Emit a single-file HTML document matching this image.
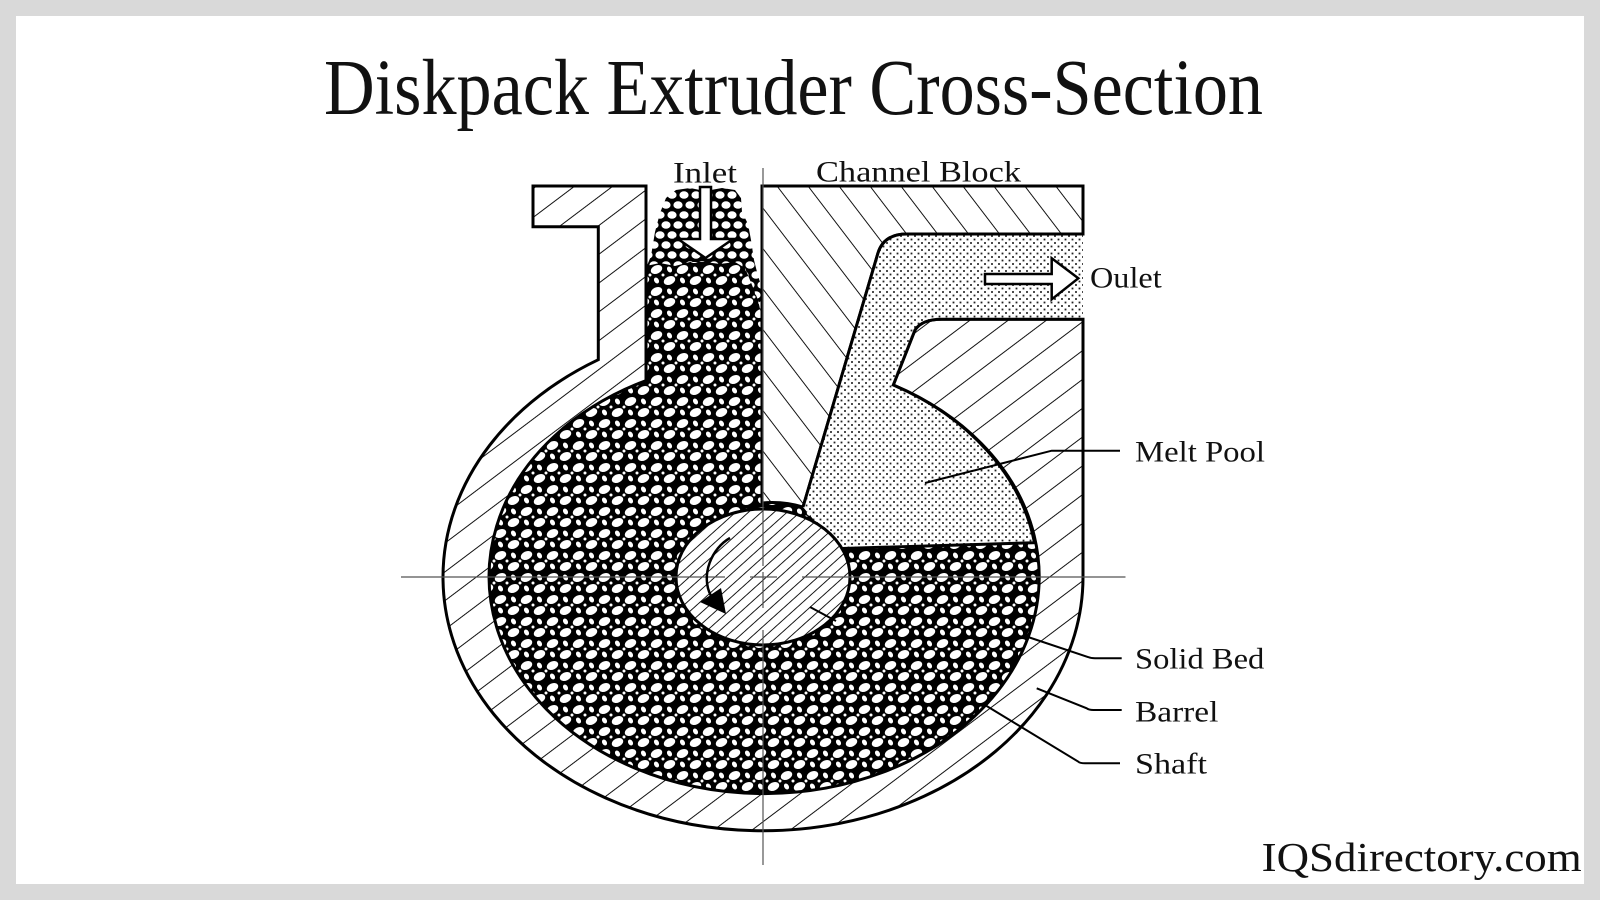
<!DOCTYPE html>
<html>
<head>
<meta charset="utf-8">
<style>
html,body{margin:0;padding:0;background:#d9d9d9;}
svg{display:block;}
text{font-family:"Liberation Serif","DejaVu Serif",serif;fill:#111;}
</style>
</head>
<body>
<svg xmlns="http://www.w3.org/2000/svg" width="1600" height="900" viewBox="0 0 1600 900">
<defs>
  <pattern id="hb" patternUnits="userSpaceOnUse" width="60" height="23" patternTransform="rotate(-37)">
    <rect width="60" height="23" fill="#fff"/>
    <path d="M0,11.5H60" stroke="#111" stroke-width="1.1"/>
  </pattern>
  <pattern id="hc" patternUnits="userSpaceOnUse" width="60" height="24.6" patternTransform="rotate(52.6)">
    <rect width="60" height="24.6" fill="#fff"/>
    <path d="M0,12.3H60" stroke="#111" stroke-width="1.1"/>
  </pattern>
  <pattern id="hs" patternUnits="userSpaceOnUse" width="40" height="8.6" patternTransform="rotate(-42)">
    <rect width="40" height="8.6" fill="#fff"/>
    <path d="M0,4.3H40" stroke="#111" stroke-width="1"/>
  </pattern>
  <pattern id="beads" patternUnits="userSpaceOnUse" width="26" height="22">
    <rect width="26" height="22" fill="#000"/>
    <ellipse cx="6.5" cy="5.5" rx="6" ry="4.1" transform="rotate(-25 6.5 5.5)" fill="#fff"/>
    <ellipse cx="19.5" cy="16.5" rx="6" ry="4.1" transform="rotate(-25 19.5 16.5)" fill="#fff"/>
    <ellipse cx="19.5" cy="5.5" rx="3.2" ry="2.3" transform="rotate(60 19.5 5.5)" fill="#fff"/>
    <ellipse cx="6.5" cy="16.5" rx="3.2" ry="2.3" transform="rotate(60 6.5 16.5)" fill="#fff"/>
    <circle cx="13" cy="11" r="1.5" fill="#fff"/>
    <circle cx="0" cy="11" r="1.5" fill="#fff"/>
    <circle cx="26" cy="11" r="1.5" fill="#fff"/>
  </pattern>
  <pattern id="loose" patternUnits="userSpaceOnUse" width="12" height="20">
    <rect width="12" height="20" fill="#000"/>
    <ellipse cx="6" cy="5" rx="4.6" ry="3.8" fill="#fff"/>
    <ellipse cx="0" cy="15" rx="4.6" ry="3.8" fill="#fff"/>
    <ellipse cx="12" cy="15" rx="4.6" ry="3.8" fill="#fff"/>
  </pattern>
  <pattern id="dots" patternUnits="userSpaceOnUse" width="7" height="7">
    <rect width="7" height="7" fill="#fff"/>
    <rect x="0.6" y="0.6" width="1.8" height="1.8" fill="#222"/>
    <rect x="4.1" y="4.1" width="1.8" height="1.8" fill="#222"/>
  </pattern>
</defs>

<!-- background -->
<rect x="0" y="0" width="1600" height="900" fill="#d9d9d9"/>
<rect x="16" y="16" width="1568" height="868" fill="#fff"/>

<!-- title -->
<text x="324" y="114" font-size="79" textLength="939" lengthAdjust="spacingAndGlyphs">Diskpack Extruder Cross-Section</text>

<!-- solid bed (beads) -->
<ellipse cx="763" cy="577" rx="275" ry="217" fill="url(#beads)"/>
<path d="M646,420 L646,266 L660,263 L675,266 L690,262 L705,262 L720,264 L735,262 L745,268 L752,285 L758,300 L762,318 L762,420 Z" fill="url(#beads)"/>
<path d="M646,268 L651,256 L655,232 L660,213 L666,198 L676,190 L690,188 L700,190 L711,190 L722,188 L735,190 L741,198 L742,212 L748,224 L751,240 L754,260 L758,276 L762,288 L762,320 L646,320 Z" fill="url(#loose)"/>
<path d="M646,266 L660,263 L675,266 L690,262 L705,262 L720,264 L735,262 L745,268 L752,285 L758,300 L762,318 L762,330 L646,330 Z" fill="url(#beads)"/>

<!-- barrel -->
<path d="M533,186 H646 V380.6 A275,217 0 1,0 893.3,385 L915,330 Q922,319.3 941.7,319.3 H1083 V577 A320,253.6 0 1,1 598.3,359.7 V226.7 H533 Z" fill="url(#hb)" stroke="#000" stroke-width="3" stroke-linejoin="miter"/>

<!-- channel block -->
<path d="M762,186 H1083 V234 H906.7 Q884,234 878,253 L803,507 Q783,501 762,503 Z" fill="url(#hc)" stroke="#000" stroke-width="3"/>

<!-- melt pool -->
<path d="M906.7,234 H1083 V319.3 H941.7 Q922,319.3 915,330 L893.3,385 A275,217 0 0,1 1034.5,542.7 L842,548.5 L818,525 L803,507 L878,253 Q884,234 906.7,234 Z" fill="url(#dots)"/>
<path d="M1083,319.3 H941.7 Q922,319.3 915,330 L893.3,385 A275,217 0 0,1 1034.5,542.7 L842,548.5 M803,507 L878,253 Q884,234 906.7,234 H1083" fill="none" stroke="#000" stroke-width="3"/>

<!-- shaft -->
<ellipse cx="763" cy="577" rx="87" ry="68" fill="url(#hs)" stroke="#000" stroke-width="3"/>

<!-- centerlines -->
<g stroke="#555" stroke-width="1.2" fill="none">
  <path d="M401,577 H676 M676,577 H725 M750,577 H777 M802,577 H1125.5"/>
  <path d="M763,168 V566 M763,572 V608 M763,630 V865"/>
</g>

<!-- inlet arrow -->
<path d="M700,187 H711 V239 H733 L705.5,258 L678,239 H700 Z" fill="#fff" stroke="#000" stroke-width="2.5" stroke-linejoin="miter"/>

<!-- outlet arrow -->
<path d="M985,274 H1051.7 V258.3 L1078.3,278.3 L1051.7,299.3 V284 H985 Z" fill="#fff" stroke="#000" stroke-width="2.5" stroke-linejoin="miter"/>

<!-- rotation arrow -->
<path d="M730,538 C712,548 700,575 711,596" fill="none" stroke="#000" stroke-width="2.5"/>
<path d="M726,614 L700,602 L721,588 Z" fill="#000"/>

<!-- leaders -->
<g fill="none" stroke="#000" stroke-width="2">
  <path d="M1120,450.7 H1051.7 L925,483"/>
  <path d="M1025,636 L1088,657 Q1091,658.3 1095,658.3 H1121.7"/>
  <path d="M1036.7,688.3 L1086.7,708.3 Q1089,710 1093.3,710 H1121.7"/>
  <path d="M810,607 L836,621 M985,705 L1078.3,761.7 Q1080,763.3 1085,763.3 H1120"/>
</g>

<!-- labels -->
<text x="673" y="182.7" font-size="30" textLength="64" lengthAdjust="spacingAndGlyphs">Inlet</text>
<text x="816" y="181.3" font-size="30" textLength="205" lengthAdjust="spacingAndGlyphs">Channel Block</text>
<text x="1090" y="287.7" font-size="30" textLength="71.7" lengthAdjust="spacingAndGlyphs">Oulet</text>
<text x="1135" y="461.5" font-size="30" textLength="130" lengthAdjust="spacingAndGlyphs">Melt Pool</text>
<text x="1135" y="668.3" font-size="30" textLength="129.3" lengthAdjust="spacingAndGlyphs">Solid Bed</text>
<text x="1135" y="721.7" font-size="30" textLength="83.4" lengthAdjust="spacingAndGlyphs">Barrel</text>
<text x="1135" y="773.3" font-size="30" textLength="72" lengthAdjust="spacingAndGlyphs">Shaft</text>

<!-- watermark -->
<text x="1261.7" y="871" font-size="41.5" textLength="320" lengthAdjust="spacingAndGlyphs">IQSdirectory.com</text>
</svg>
</body>
</html>
